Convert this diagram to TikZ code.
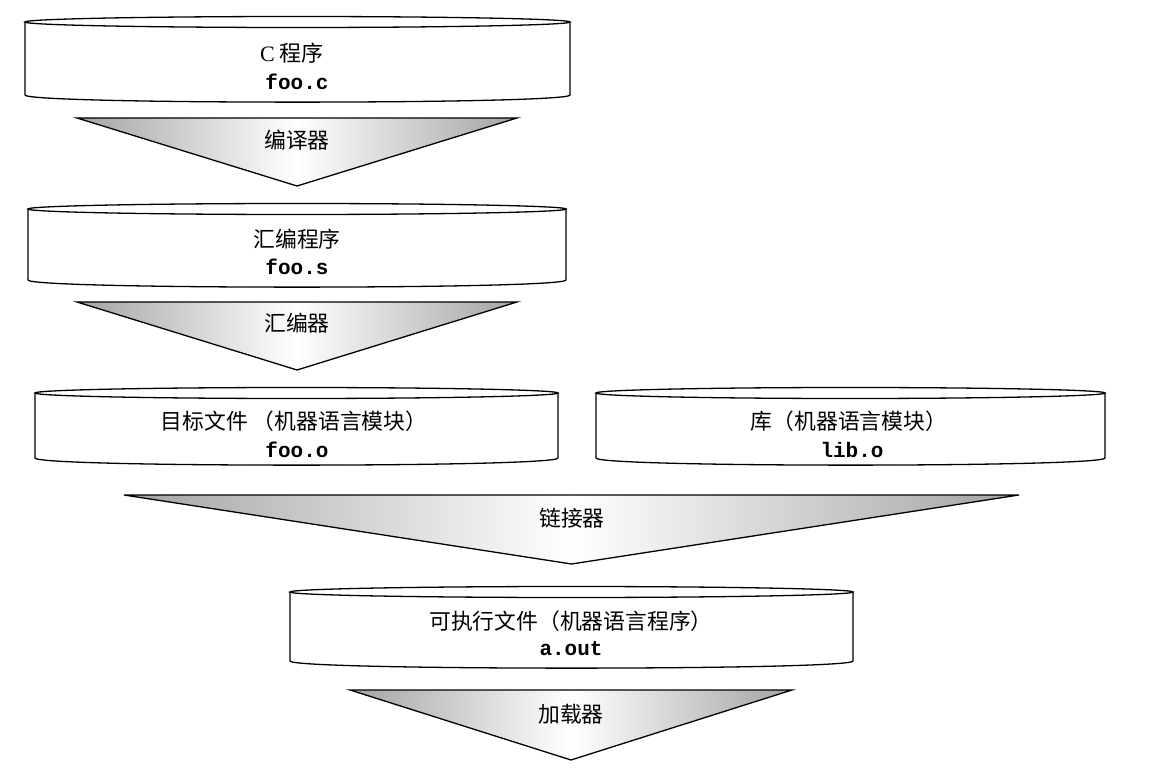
\documentclass[tikz,border=0pt]{standalone}
\usepackage{fontspec}
\setmainfont{Liberation Serif}
\setmonofont{Liberation Mono}
\newfontfamily\cjk{Noto Sans CJK SC}
\begin{document}
\begin{tikzpicture}[x=1pt,y=-1pt,
  cylline/.style={draw=black, line width=1.3pt, fill=white},
  funnel/.style={draw=black, line width=1.3pt, left color=black!36, right color=black!36, middle color=white},
  cjklabel/.style={inner sep=0pt, font=\cjk\fontsize{21.8}{24}\selectfont},
  codelabel/.style={inner sep=0pt, font=\ttfamily\bfseries\fontsize{21}{24}\selectfont}]
\useasboundingbox (0,0) rectangle (1149,775);
\newcommand\cylshape[4]{%
  \draw[cylline] (#1,#3) -- (#1,#4) .. controls (#1,#4+9.5) and (#2,#4+9.5) .. (#2,#4) -- (#2,#3);
  \draw[cylline] ({(#1+#2)/2},#3) ellipse [x radius={(#2-#1)/2}, y radius=5.5];
}
\newcommand\funnelshape[4]{%
  \draw[funnel] (#1,#3) -- (#2,#3) -- ({(#1+#2)/2},#4) -- cycle;
}
% cylinder 1
\cylshape{25}{570}{22}{95}
\node[inner sep=0pt, font=\fontsize{22}{24}\selectfont] (c1t) at (292,53) {C\hspace{5pt}{\cjk 程序}};
\node[codelabel] (c1f) at (297,82) {foo.c};
% funnel 1
\funnelshape{77}{517}{118}{186}
\node[cjklabel] (f1) at (297,140) {编译器};
% cylinder 2
\cylshape{28}{566}{209}{280}
\node[cjklabel] (c2t) at (297,239) {汇编程序};
\node[codelabel] (c2f) at (297,267) {foo.s};
% funnel 2
\funnelshape{77}{517}{302}{370}
\node[cjklabel] (f2) at (297,323) {汇编器};
% cylinder 3
\cylshape{35}{558}{393}{458}
\node[cjklabel] (c3t) at (294,421) {目标文件\ （机器语言模块）};
\node[codelabel] (c3f) at (297,450) {foo.o};
% cylinder 4
\cylshape{596}{1105}{393}{458}
\node[cjklabel] (c4t) at (849,421) {库（机器语言模块）};
\node[codelabel] (c4f) at (852,450) {lib.o};
% funnel 3
\funnelshape{124}{1019}{495}{564}
\node[cjklabel] (f3) at (572,518) {链接器};
% cylinder 5
\cylshape{290}{853}{592}{661}
\node[cjklabel] (c5t) at (571,621) {可执行文件（机器语言程序）};
\node[codelabel] (c5f) at (571,649) {a.out};
% funnel 4
\funnelshape{350}{792}{690}{760}
\node[cjklabel] (f4) at (571,714) {加载器};
\end{tikzpicture}
\end{document}
